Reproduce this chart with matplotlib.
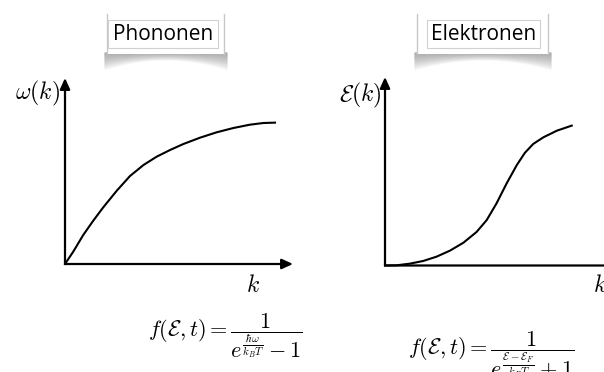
import matplotlib.pyplot as plt
import numpy as np
from matplotlib.patches import Rectangle

plt.rcParams['mathtext.fontset'] = 'cm'

# phonon dispersion omega(k), arbitrary units
k_phonon = [0.0, 0.036, 0.080, 0.124, 0.168, 0.227, 0.285, 0.344, 0.402,
            0.461, 0.519, 0.592, 0.665, 0.738, 0.811, 0.870, 0.921]
omega = [0.0, 0.066, 0.156, 0.233, 0.305, 0.394, 0.473, 0.532, 0.577,
         0.613, 0.645, 0.679, 0.708, 0.731, 0.749, 0.758, 0.760]

# electron band E(k), arbitrary units
k_electron = [0.0, 0.046, 0.099, 0.151, 0.204, 0.257, 0.310, 0.362, 0.402,
              0.441, 0.481, 0.521, 0.553, 0.586, 0.626, 0.679, 0.738]
energy = [0.0, 0.001, 0.010, 0.024, 0.047, 0.079, 0.121, 0.178, 0.241,
          0.330, 0.436, 0.533, 0.598, 0.645, 0.680, 0.715, 0.742]

titles = ['Phononen', 'Elektronen']
ylabels = [r'$\omega(k)$', r'$\mathcal{E}(k)$']
formulas = [r'$f(\mathcal{E},t) = \dfrac{1}{e^{\frac{\hbar\omega}{k_B T}}-1}$',
            r'$f(\mathcal{E},t) = \dfrac{1}{e^{\frac{\mathcal{E}-\mathcal{E}_F}{k_B T}}+1}$']

W, H = 604, 372
fig = plt.figure(figsize=(W / 100, H / 100), dpi=100)

# pixel-space layer for the cards and the text
bg = fig.add_axes([0, 0, 1, 1])
bg.set_xlim(0, W)
bg.set_ylim(H, 0)
bg.axis('off')


def px_axes(x0, y0, w, h):
    ax = fig.add_axes([x0 / W, (H - y0) / H, w / W, h / H])
    ax.set_xlim(0, 1)
    ax.set_ylim(0, 1)
    ax.axis('off')
    ax.patch.set_visible(False)
    return ax


def arrows(ax):
    style = dict(arrowstyle='-|>,head_length=0.55,head_width=0.25',
                 lw=1.6, color='black', shrinkA=0, shrinkB=0,
                 mutation_scale=12)
    for tip in [(1, 0), (0, 1)]:
        ax.annotate('', xy=tip, xytext=(0, 0), xycoords='axes fraction',
                    arrowprops=style, annotation_clip=False)


def card(x0, x1, ix0, ix1, text):
    xc = (x0 + x1) / 2
    yb = 52
    xs = np.linspace(x0 - 3, x1 + 3, 80)
    half = (x1 - x0) / 2 + 3
    lower = yb + 8 + 10 * ((xs - xc) / half) ** 2
    for t in np.linspace(0.15, 1, 12):
        bg.fill_between(xs, yb, yb + t * (lower - yb), color='#606060',
                        alpha=0.05, lw=0, zorder=1)
    bg.add_patch(Rectangle((x0, 8), x1 - x0, yb + 2 - 8, facecolor='white',
                           edgecolor='none', zorder=2))
    for x in (x0, x1):
        bg.plot([x, x], [14, yb + 2], color='#c8c8c8', lw=1, zorder=3)
    bg.add_patch(Rectangle((ix0, 20), ix1 - ix0, 28, facecolor='white',
                           edgecolor='#d0d0d0', lw=0.8, zorder=3))
    bg.text((ix0 + ix1) / 2, 34.5, text, ha='center', va='center',
            family='Open Sans', fontsize=15, zorder=4)


card(107, 224, 108, 218, titles[0])
card(417, 548, 427, 540, titles[1])

ax1 = px_axes(65, 264, 228, 186)
ax1.plot(k_phonon, omega, color='black', lw=1.5, clip_on=False)
arrows(ax1)

ax2 = px_axes(385, 265.5, 253, 188.5)
ax2.plot(k_electron, energy, color='black', lw=1.5, clip_on=False)
arrows(ax2)

bg.text(60, 93, ylabels[0], ha='right', va='center', fontsize=17)
bg.text(382, 95, ylabels[1], ha='right', va='center', fontsize=17)
bg.text(253, 285, r'$k$', ha='center', va='center', fontsize=17)
bg.text(600, 285, r'$k$', ha='center', va='center', fontsize=17)

bg.text(148, 336, formulas[0], ha='left', va='center', fontsize=16)
bg.text(408, 355, formulas[1], ha='left', va='center', fontsize=16)

fig.savefig('out.png', dpi=100)
